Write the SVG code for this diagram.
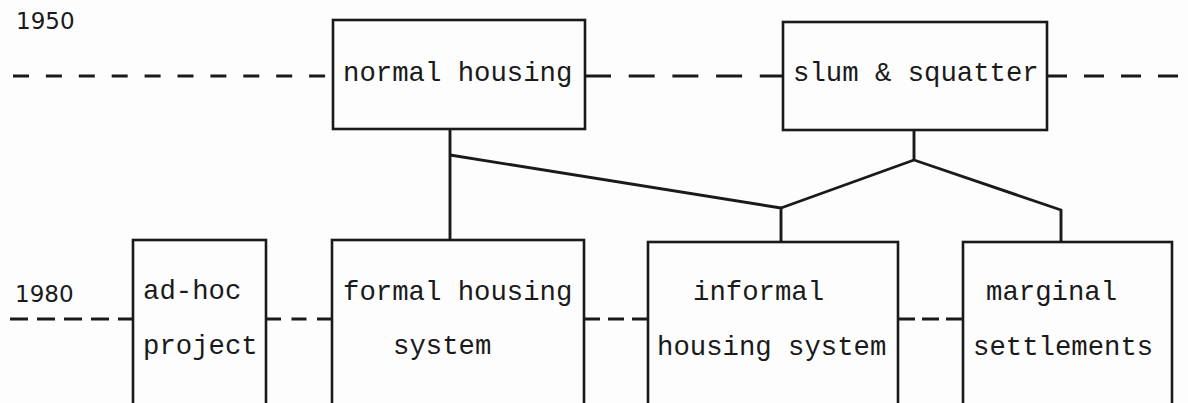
<svg xmlns="http://www.w3.org/2000/svg" width="1188" height="403" viewBox="0 0 1188 403">
<style>
.box{fill:none;stroke:#1a1a1a;stroke-width:2.6}
.lbl{font-family:"Liberation Mono","DejaVu Sans Mono",monospace;font-size:27.3px;fill:#1a1a1a}
.yr{font-family:"DejaVu Sans","Liberation Sans",sans-serif;font-size:23px;fill:#1a1a1a}
.dash{stroke:#1a1a1a;stroke-width:2.8;fill:none}
.con{stroke:#1a1a1a;stroke-width:2.9;fill:none;stroke-linejoin:round}
</style>
<rect x="0" y="0" width="1188" height="403" fill="#fdfdfd"/>
<text class="yr" x="16" y="29">1950</text>
<text class="yr" x="15" y="302">1980</text>
<g id="timelines">
<line class="dash" x1="13" y1="76" x2="333" y2="76" stroke-dasharray="16 16.9"/>
<line class="dash" x1="585" y1="76" x2="783" y2="76" stroke-dasharray="26 17.7"/>
<line class="dash" x1="1047" y1="76" x2="1180" y2="76" stroke-dasharray="20 17"/>
<line class="dash" x1="10" y1="319" x2="133" y2="319" stroke-dasharray="18 9"/>
<line class="dash" x1="266" y1="319" x2="332" y2="319" stroke-dasharray="15 10.5"/>
<line class="dash" x1="584" y1="319" x2="648" y2="319" stroke-dasharray="16 8"/>
<line class="dash" x1="898" y1="319" x2="963" y2="319" stroke-dasharray="17 7"/>
</g>
<g id="connectors">
<line class="con" x1="450" y1="129" x2="450" y2="240"/>
<polyline class="con" points="450,155 781,208 781,242"/>
<line class="con" x1="914" y1="130" x2="914" y2="160"/>
<polyline class="con" points="781,208 914,160 1061,210 1061,242"/>
</g>
<g id="normal-housing">
<rect class="box" x="333" y="20" width="252" height="109"/>
<text class="lbl" x="343" y="81">normal housing</text>
</g>
<g id="slum-squatter">
<rect class="box" x="783" y="22" width="264" height="108"/>
<text class="lbl" x="793" y="81">slum &amp; squatter</text>
</g>
<g id="ad-hoc-project">
<rect class="box" x="133" y="240" width="133" height="170"/>
<text class="lbl" x="143" y="299">ad-hoc</text>
<text class="lbl" x="143" y="354">project</text>
</g>
<g id="formal-housing-system">
<rect class="box" x="332" y="240" width="252" height="170"/>
<text class="lbl" x="343" y="300">formal housing</text>
<text class="lbl" x="393" y="354">system</text>
</g>
<g id="informal-housing-system">
<rect class="box" x="648" y="242" width="250" height="170"/>
<text class="lbl" x="693" y="300">informal</text>
<text class="lbl" x="657" y="355">housing system</text>
</g>
<g id="marginal-settlements">
<rect class="box" x="963" y="242" width="209" height="170"/>
<text class="lbl" x="986" y="300">marginal</text>
<text class="lbl" x="973" y="355">settlements</text>
</g>
</svg>
